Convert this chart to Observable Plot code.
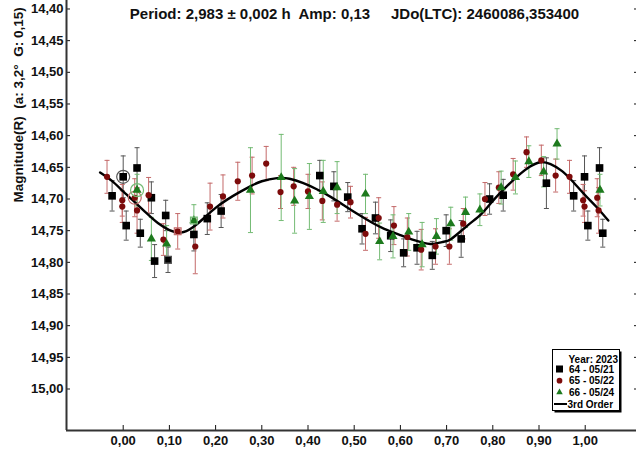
<!DOCTYPE html>
<html>
<head>
<meta charset="utf-8">
<script src="https://cdn.jsdelivr.net/npm/d3@7"></script>
<script src="https://cdn.jsdelivr.net/npm/@observablehq/plot@0.6"></script>
<style>
  body { margin: 0; background: #fff; }
  #chart { position: relative; width: 636px; height: 449px; font-family: "Liberation Sans", Arial, sans-serif; }
  #chart svg text { white-space: pre; }
  #legend { position: absolute; left: 552px; top: 349px; }
</style>
</head>
<body>
<div id="chart"></div>
<script>
// Lightcurve phased to P = 2.983 h; values are [phase, magnitude, error, ring]
// ring: "o" = circled point, "s" = boxed point
const session64 = [
  [-0.024, 14.695, 0.024], [0.000, 14.665, 0.033, "o"], [0.0065, 14.742, 0.023],
  [0.030, 14.651, 0.032], [0.037, 14.754, 0.022], [0.061, 14.698, 0.025],
  [0.068, 14.798, 0.026], [0.092, 14.726, 0.024], [0.097, 14.796, 0.020, "s"],
  [0.153, 14.756, 0.026], [0.182, 14.731, 0.025], [0.212, 14.719, 0.026],
  [0.4255, 14.663, 0.024], [0.456, 14.680, 0.023], [0.486, 14.697, 0.023],
  [0.517, 14.747, 0.024], [0.546, 14.730, 0.025], [0.579, 14.758, 0.025],
  [0.607, 14.785, 0.022], [0.636, 14.777, 0.026], [0.669, 14.789, 0.022],
  [0.699, 14.750, 0.025], [0.7315, 14.763, 0.029], [0.793, 14.700, 0.024],
  [0.8225, 14.694, 0.025], [0.916, 14.675, 0.040], [0.975, 14.695, 0.024],
  [0.9985, 14.665, 0.033], [1.0057, 14.742, 0.023], [1.031, 14.651, 0.032],
  [1.038, 14.754, 0.022]
];
const session65 = [
  [-0.035, 14.665, 0.026], [-0.002, 14.702, 0.025], [-0.002, 14.712, 0.025],
  [0.025, 14.698, 0.030, "o"], [0.030, 14.718, 0.036], [0.055, 14.694, 0.028],
  [0.087, 14.764, 0.025], [0.118, 14.751, 0.028, "s"], [0.156, 14.775, 0.043],
  [0.188, 14.712, 0.037], [0.216, 14.696, 0.034], [0.248, 14.672, 0.030],
  [0.279, 14.663, 0.029], [0.3095, 14.644, 0.027], [0.3405, 14.689, 0.026],
  [0.369, 14.680, 0.030], [0.400, 14.688, 0.027], [0.431, 14.703, 0.030],
  [0.463, 14.709, 0.026], [0.492, 14.705, 0.025], [0.5245, 14.755, 0.026],
  [0.553, 14.730, 0.032], [0.586, 14.742, 0.030], [0.615, 14.760, 0.030],
  [0.645, 14.780, 0.032], [0.676, 14.775, 0.028], [0.706, 14.775, 0.028],
  [0.736, 14.739, 0.024], [0.783, 14.700, 0.026], [0.813, 14.682, 0.025],
  [0.844, 14.661, 0.025], [0.873, 14.626, 0.024], [0.905, 14.639, 0.024],
  [0.936, 14.663, 0.026], [0.966, 14.665, 0.026], [0.9955, 14.702, 0.025],
  [0.9985, 14.712, 0.025], [1.026, 14.698, 0.030], [1.029, 14.718, 0.036]
];
const session66 = [
  [0.030, 14.686, 0.025, "o"], [0.061, 14.763, 0.034], [0.094, 14.771, 0.029],
  [0.153, 14.734, 0.025, "s"], [0.2755, 14.686, 0.067], [0.342, 14.666, 0.068],
  [0.371, 14.703, 0.051], [0.403, 14.696, 0.052], [0.433, 14.688, 0.049],
  [0.463, 14.682, 0.041], [0.5245, 14.692, 0.031], [0.555, 14.767, 0.029],
  [0.584, 14.759, 0.034], [0.618, 14.752, 0.029], [0.647, 14.772, 0.035],
  [0.678, 14.759, 0.028], [0.709, 14.739, 0.026], [0.741, 14.721, 0.024],
  [0.772, 14.717, 0.025], [0.818, 14.682, 0.026], [0.849, 14.666, 0.026],
  [0.878, 14.641, 0.025], [0.910, 14.657, 0.024], [0.939, 14.613, 0.024],
  [1.032, 14.686, 0.025]
];

// 3rd order Fourier fit, sampled along the phase
const fitPhase = [-0.05, -0.025, 0.00, 0.025, 0.05, 0.075, 0.10, 0.125, 0.15, 0.175, 0.20, 0.225,
  0.25, 0.275, 0.30, 0.333, 0.36, 0.39, 0.42, 0.45, 0.48, 0.51, 0.54, 0.565, 0.60, 0.63, 0.665,
  0.69, 0.71, 0.745, 0.775, 0.80, 0.83, 0.86, 0.88, 0.903, 0.925, 0.95, 0.975, 1.00, 1.025, 1.05];
const fitMag = [14.658, 14.671, 14.688, 14.705, 14.722, 14.738, 14.749, 14.753, 14.745, 14.730,
  14.714, 14.701, 14.690, 14.680, 14.672, 14.667, 14.668, 14.675, 14.685, 14.697, 14.711, 14.725,
  14.738, 14.747, 14.757, 14.765, 14.771, 14.768, 14.763, 14.742, 14.724, 14.703, 14.680, 14.660,
  14.649, 14.642, 14.645, 14.656, 14.674, 14.694, 14.713, 14.734];

const xTicks = [0, 0.1, 0.2, 0.3, 0.4, 0.5, 0.6, 0.7, 0.8, 0.9, 1.0];
const yTicks = [14.40, 14.45, 14.50, 14.55, 14.60, 14.65, 14.70, 14.75, 14.80, 14.85, 14.90, 14.95, 15.00];
const xDomain = [-0.1227, 1.111];
const yDomain = [14.3866, 15.0655];

const titleText = "Period: 2,983 \u00b1 0,002 h  Amp: 0,13     JDo(LTC): 2460086,353400";
const yLabel = "Magnitude(R)  (a: 3,2\u00b0  G: 0,15)";
const legendTitle = "Year: 2023";
const fitName = "3rd Order";

const sessions = [
  { name: "64 - 05/21", rows: session64, symbol: "square", fill: "#000000", bar: "#555555", r: 4.3 },
  { name: "65 - 05/22", rows: session65, symbol: "circle", fill: "#7d0b0b", bar: "#c46a6a", r: 3.1 },
  { name: "66 - 05/24", rows: session66, symbol: "triangle", fill: "#1d7a1d", bar: "#74bb74", r: 3.4 }
];

const fmt = d => d.toFixed(2).replace(".", ",");
const fit = fitPhase.map((p, i) => ({ phase: p, mag: fitMag[i] }));

// short horizontal stroke used as error-bar cap
const capSymbol = {
  draw(context, size) {
    const w = Math.sqrt(size / Math.PI);
    context.moveTo(-w, 0);
    context.lineTo(w, 0);
  }
};

const marks = [];
for (const s of sessions) {
  const rows = s.rows.map(([phase, mag, err, ring]) => ({ phase, mag, err, ring }));
  s.data = rows;
  marks.push(
    Plot.ruleX(rows, { x: "phase", y1: d => d.mag - d.err, y2: d => d.mag + d.err, stroke: s.bar, strokeWidth: 1 }),
    Plot.dot(rows, { x: "phase", y: d => d.mag - d.err, symbol: capSymbol, r: 2.5, stroke: s.bar, fill: "none", strokeWidth: 1 }),
    Plot.dot(rows, { x: "phase", y: d => d.mag + d.err, symbol: capSymbol, r: 2.5, stroke: s.bar, fill: "none", strokeWidth: 1 })
  );
}
marks.push(Plot.line(fit, { x: "phase", y: "mag", curve: "natural", stroke: "#000", strokeWidth: 2.4 }));
for (const s of sessions) {
  marks.push(
    Plot.dot(s.data, { x: "phase", y: "mag", symbol: s.symbol, r: s.r, fill: s.fill, stroke: "none" }),
    Plot.dot(s.data.filter(d => d.ring === "o"), { x: "phase", y: "mag", symbol: "circle", r: 6.5, fill: "none", stroke: s.bar, strokeWidth: 1.2 }),
    Plot.dot(s.data.filter(d => d.ring === "s"), { x: "phase", y: "mag", symbol: "square", r: 3.8, fill: "none", stroke: s.bar, strokeWidth: 1.2 })
  );
}

const chart = Plot.plot({
  width: 636,
  height: 449,
  marginLeft: 66,
  marginRight: 0,
  marginTop: 0,
  marginBottom: 19,
  style: { fontFamily: '"Liberation Sans", Arial, sans-serif', background: "#fff", color: "#111" },
  x: { domain: xDomain },
  y: { domain: yDomain, reverse: true },
  marks: [
    ...marks,
    Plot.axisX({ ticks: xTicks, tickFormat: fmt, tickSize: -5, tickPadding: 10, fontSize: 13, fontWeight: "bold", label: null }),
    Plot.axisY({ anchor: "left", ticks: yTicks, tickFormat: fmt, tickSize: -4, tickPadding: 7, fontSize: 13, fontWeight: "bold", label: null }),
    Plot.axisY({ anchor: "right", ticks: yTicks, tickFormat: () => "", tickSize: -3, label: null }),
    Plot.ruleX([xDomain[0]], { stroke: "#333", strokeWidth: 2 }),
    Plot.ruleY([yDomain[1]], { stroke: "#333", strokeWidth: 2 }),
    Plot.text([titleText], { text: d => d, frameAnchor: "top", dx: 3, dy: 14, fontSize: 15, fontWeight: "bold", lineAnchor: "middle" }),
    Plot.text([yLabel], { text: d => d, frameAnchor: "left", rotate: -90, dx: -48, dy: -13, fontSize: 13.5, fontWeight: "bold", lineAnchor: "middle" })
  ]
});
document.getElementById("chart").appendChild(chart);

// legend box with drop shadow
const lg = d3.select("#chart").append("svg").attr("id", "legend").attr("width", 72).attr("height", 66)
  .style("font-family", '"Liberation Sans", Arial, sans-serif').style("font-weight", "bold").style("font-size", "10px");
lg.append("rect").attr("x", 2.5).attr("y", 2.5).attr("width", 67).attr("height", 61).attr("fill", "#000");
lg.append("rect").attr("x", 0.5).attr("y", 0.5).attr("width", 67).attr("height", 61).attr("fill", "#fff").attr("stroke", "#000");
lg.append("text").attr("x", 66).attr("y", 13.5).attr("text-anchor", "end").text(legendTitle);
sessions.forEach((s, i) => {
  const cy = 20 + i * 11.7;
  lg.append("path")
    .attr("transform", `translate(7.5,${cy})`)
    .attr("d", d3.symbol(s.symbol === "square" ? d3.symbolSquare : s.symbol === "circle" ? d3.symbolCircle : d3.symbolTriangle2, Math.PI * s.r * s.r * 0.85)())
    .attr("fill", s.fill);
  lg.append("text").attr("x", 17).attr("y", cy + 3.6).text(s.name);
});
lg.append("line").attr("x1", 2).attr("x2", 15).attr("y1", 55).attr("y2", 55).attr("stroke", "#000").attr("stroke-width", 2);
lg.append("text").attr("x", 15.5).attr("y", 58.6).text(fitName);
</script>
</body>
</html>
